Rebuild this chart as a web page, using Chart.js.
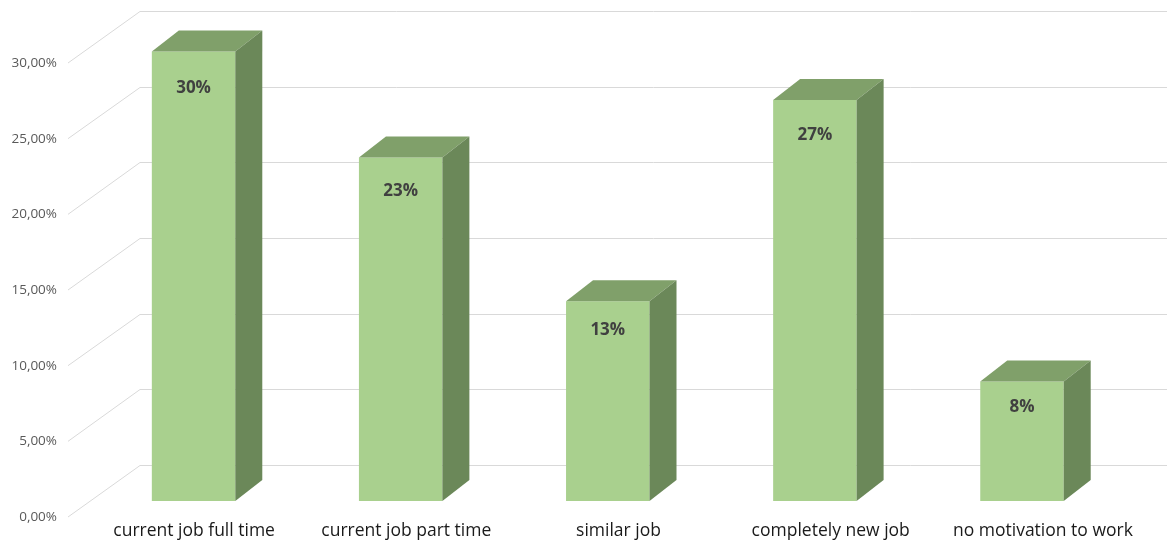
<!DOCTYPE html>
<html>
<head>
<meta charset="utf-8">
<script src="https://cdn.jsdelivr.net/npm/chart.js@4.4.1/dist/chart.umd.min.js"></script>
<style>
  html, body { margin: 0; padding: 0; background: #ffffff; overflow: hidden; }
  canvas { display: block; }
</style>
</head>
<body>
<canvas id="c" width="1167" height="543" style="width:1167px;height:543px"></canvas>
<script>
// ---- data ----
const categories = ['current job full time', 'current job part time', 'similar job', 'completely new job', 'no motivation to work'];
const shares = [29.7, 22.7, 13.2, 26.5, 7.9];          // percent
const yTickValues = [0, 5, 10, 15, 20, 25, 30];          // percent

// ---- styling constants ----
const FRONT = '#A9D08E', TOP = '#80A06A', SIDE = '#6B8859', GRID = '#D9D9D9';
const DEPTH_X = 27, DEPTH_Y = -21;      // bar depth offset
const BAR_SHIFT_Y = -16;                // bars sit behind the front plane
const BAR_SCALE_X = 0.976, BAR_SHIFT_X = 2;
const WALL_DX = 72, WALL_DY = -52, DIAG_START = -20;

function barTransform(chart) {
  const L = chart.chartArea.left;
  return { a: BAR_SCALE_X, b: L * (1 - BAR_SCALE_X) + BAR_SHIFT_X, dy: BAR_SHIFT_Y };
}

const pseudo3d = {
  id: 'pseudo3d',
  beforeDatasetsDraw(chart) {
    const ctx = chart.ctx, ys = chart.scales.y, area = chart.chartArea;
    ctx.save();
    ctx.strokeStyle = GRID;
    ctx.lineWidth = 1;
    yTickValues.forEach(v => {
      const yf = ys.getPixelForValue(v);
      const x0 = area.left + DIAG_START;
      const x1 = x0 + WALL_DX;
      const yb = Math.round(yf + WALL_DY) + 0.5;
      ctx.beginPath();
      ctx.moveTo(x0, yf);
      ctx.lineTo(x1, yb);
      ctx.lineTo(chart.width, yb);
      ctx.stroke();
    });
    ctx.restore();
    const t = barTransform(chart);
    ctx.save();
    ctx.transform(t.a, 0, 0, 1, t.b, t.dy);
  },
  afterDatasetsDraw(chart) {
    const ctx = chart.ctx;
    ctx.restore();
    const t = barTransform(chart);
    const meta = chart.getDatasetMeta(0);
    meta.data.forEach((el, i) => {
      const p = el.getProps(['x', 'y', 'base', 'width'], true);
      const L = t.a * (p.x - p.width / 2) + t.b;
      const R = t.a * (p.x + p.width / 2) + t.b;
      const T = p.y + t.dy, B = p.base + t.dy;
      ctx.save();
      // top face
      ctx.fillStyle = TOP;
      ctx.beginPath();
      ctx.moveTo(L, T); ctx.lineTo(L + DEPTH_X, T + DEPTH_Y);
      ctx.lineTo(R + DEPTH_X, T + DEPTH_Y); ctx.lineTo(R, T); ctx.closePath();
      ctx.fill();
      // side face
      ctx.fillStyle = SIDE;
      ctx.beginPath();
      ctx.moveTo(R, T); ctx.lineTo(R + DEPTH_X, T + DEPTH_Y);
      ctx.lineTo(R + DEPTH_X, B + DEPTH_Y); ctx.lineTo(R, B); ctx.closePath();
      ctx.fill();
      // value label
      const v = shares[i];
      ctx.fillStyle = '#404040';
      ctx.font = 'bold 17px "Open Sans", sans-serif';
      ctx.textAlign = 'center';
      ctx.textBaseline = 'middle';
      ctx.fillText(Math.round(v) + '%', (L + R) / 2, T + 22 + 0.5 * v);
      ctx.restore();
    });
  }
};

new Chart(document.getElementById('c'), {
  type: 'bar',
  data: {
    labels: categories,
    datasets: [{
      data: shares,
      backgroundColor: FRONT,
      borderWidth: 0,
      categoryPercentage: 1,
      barPercentage: 0.403
    }]
  },
  options: {
    responsive: false,
    animation: false,
    devicePixelRatio: 1,
    layout: { padding: { top: 63, right: 18, bottom: 0, left: 0 } },
    plugins: { legend: { display: false }, tooltip: { enabled: false } },
    scales: {
      x: {
        grid: { display: false, drawTicks: false },
        border: { display: false },
        ticks: {
          padding: 4,
          color: '#1a1a1a',
          font: { family: '"Open Sans", sans-serif', size: 17.5 },
          maxRotation: 0, autoSkip: false
        },
        afterFit(s) { s.height = 26; }
      },
      y: {
        min: 0, max: 30,
        grid: { display: false, drawTicks: false },
        border: { display: false },
        afterBuildTicks(s) { s.ticks = yTickValues.map(v => ({ value: v })); },
        ticks: {
          padding: 31,
          color: '#595959',
          font: { family: '"Open Sans", sans-serif', size: 13.5 },
          callback: v => v.toFixed(2).replace('.', ',') + '%'
        },
        afterFit(s) { s.width = 88; s.paddingTop = 0; s.paddingBottom = 0; }
      }
    }
  },
  plugins: [pseudo3d]
});
</script>
</body>
</html>
